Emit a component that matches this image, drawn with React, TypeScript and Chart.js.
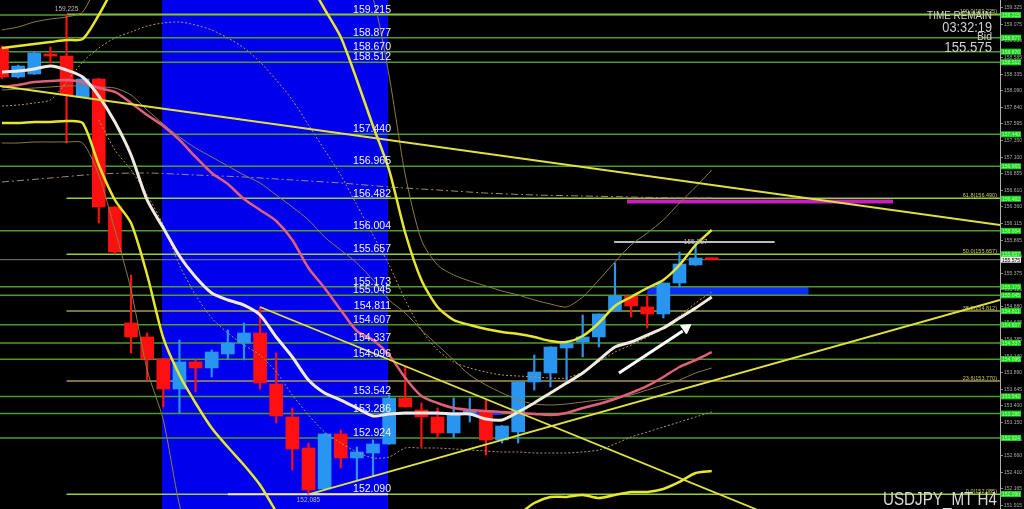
import React, { useEffect, useRef } from 'react';
import { Chart, registerables } from 'chart.js';

Chart.register(...registerables);

// ---------- scale ranges ----------
const X_MIN = -0.124;
const X_MAX = 61.87;
const Y_MIN = 151.867;
const Y_MAX = 159.438;

// ---------- candles (USDJPY H4) ----------
const OPEN = [158.724, 158.293, 158.337, 158.635, 158.605, 157.995, 158.263, 156.359, 154.634, 154.426, 154.098, 153.652, 154.054, 153.965, 154.173, 154.336, 154.485, 153.726, 153.236, 152.775, 152.165, 152.983, 152.626, 152.700, 152.834, 153.518, 153.340, 153.236, 152.998, 153.295, 153.325, 152.894, 153.013, 153.756, 153.890, 154.262, 154.351, 154.426, 154.812, 155.035, 154.872, 154.768, 155.229, 155.497, 155.590];
const HIGH = [158.754, 158.470, 158.665, 158.739, 159.225, 158.290, 158.275, 156.365, 155.348, 154.485, 154.105, 154.381, 154.084, 154.232, 154.530, 154.634, 154.872, 154.188, 153.370, 152.849, 152.990, 153.042, 152.790, 152.894, 153.563, 153.979, 153.444, 153.370, 153.518, 153.518, 153.488, 153.110, 153.760, 154.158, 154.280, 154.366, 154.753, 154.770, 155.526, 155.040, 155.050, 155.230, 155.690, 155.837, 155.590];
const LOW = [158.270, 158.280, 158.330, 158.501, 157.311, 157.990, 156.121, 155.670, 154.188, 153.786, 153.384, 153.295, 153.608, 153.831, 154.098, 154.084, 153.650, 153.146, 152.447, 152.085, 152.150, 152.477, 152.299, 152.358, 152.830, 153.384, 152.790, 152.923, 152.923, 153.161, 152.670, 152.849, 152.849, 153.637, 153.682, 153.786, 154.128, 154.277, 154.810, 154.723, 154.559, 154.708, 155.169, 155.490, 155.575];
const CLOSE = [158.293, 158.456, 158.650, 158.605, 158.025, 158.263, 156.359, 155.690, 154.426, 154.098, 153.652, 154.054, 153.965, 154.202, 154.336, 154.485, 153.741, 153.251, 152.760, 152.150, 152.983, 152.626, 152.715, 152.834, 153.518, 153.384, 153.236, 152.998, 153.295, 153.325, 152.894, 153.102, 153.756, 153.905, 154.277, 154.336, 154.426, 154.768, 155.035, 154.887, 154.768, 155.229, 155.511, 155.601, 155.575];

// ---------- indicator series (one value per candle) ----------
const MA_WHITE = [158.367, 158.382, 158.412, 158.456, 158.397, 158.293, 158.010, 157.623, 157.133, 156.463, 156.047, 155.630, 155.318, 155.080, 154.976, 154.901, 154.753, 154.425, 154.128, 153.786, 153.593, 153.488, 153.369, 153.250, 153.280, 153.295, 153.295, 153.295, 153.280, 153.280, 153.206, 153.191, 153.310, 153.444, 153.593, 153.741, 153.890, 154.083, 154.277, 154.351, 154.455, 154.559, 154.708, 154.857, 155.020];
const MA_PINK = [158.144, 158.174, 158.218, 158.233, 158.248, 158.218, 158.129, 158.070, 157.906, 157.727, 157.564, 157.356, 157.103, 156.865, 156.701, 156.478, 156.314, 156.151, 155.868, 155.452, 155.154, 154.827, 154.515, 154.381, 154.158, 153.816, 153.548, 153.444, 153.369, 153.340, 153.325, 153.310, 153.295, 153.280, 153.265, 153.295, 153.369, 153.429, 153.503, 153.593, 153.697, 153.831, 153.979, 154.083, 154.202];
const MA_TAN = [158.099, 158.114, 158.129, 158.144, 158.159, 158.159, 158.144, 158.129, 158.025, 157.802, 157.594, 157.400, 157.237, 157.103, 156.969, 156.835, 156.716, 156.538, 156.359, 156.166, 155.913, 155.719, 155.526, 155.273, 154.976, 154.782, 154.530, 154.306, 154.083, 153.860, 153.712, 153.593, 153.488, 153.429, 153.414, 153.429, 153.459, 153.488, 153.518, 153.563, 153.637, 153.712, 153.786, 153.890, 153.964];
const BAND_UP = [158.724, 158.754, 158.784, 158.813, 158.843, 158.858, 159.215, 159.661, null, null, null, null, null, null, null, null, null, null, 160.330, 159.735, 159.304, 158.888, 158.248, 157.564, 156.909, 155.972, 155.273, 154.872, 154.678, 154.604, 154.544, 154.500, 154.470, 154.425, 154.366, 154.351, 154.440, 154.634, 154.887, 155.020, 155.154, 155.273, 155.496, 155.794, 156.017];
const BAND_LO = [157.608, 157.608, 157.623, 157.623, 157.638, 157.608, 156.984, 156.463, 156.121, 155.348, 154.411, 153.860, 153.444, 153.072, 152.789, 152.522, 152.224, 151.823, 151.406, null, null, null, null, null, null, null, null, null, null, null, null, null, 151.778, 151.956, 152.046, 152.046, 152.075, 152.031, 152.075, 152.120, 152.120, 152.165, 152.269, 152.403, 152.432];
const BAND3_UP = [158.992, 159.036, 159.111, 159.155, 159.185, 159.260, 159.735, 160.330, null, null, null, null, null, null, null, null, null, null, null, null, null, 160.330, 159.884, 159.468, 158.308, 156.835, 155.868, 155.496, 155.348, 155.258, 155.184, 155.110, 155.050, 154.976, 154.916, 154.872, 155.020, 155.273, 155.541, 155.794, 155.972, 156.166, 156.419, 156.657, 156.909];
const BAND3_LO = [157.311, 157.311, 157.326, 157.326, 157.326, 157.311, 156.835, 156.017, 155.125, 153.935, 153.191, 151.927, 151.110, null, null, null, null, null, null, null, null, null, null, null, null, null, null, null, null, null, null, null, null, null, null, null, null, null, null, null, null, null, null, null, null];
const DOT_UP = [157.861, 157.876, 157.906, 157.951, 158.218, 158.516, 158.724, 158.873, 158.962, 159.051, 159.096, 159.111, 159.066, 158.992, 158.873, 158.724, 158.516, 158.248, 157.951, 157.579, 157.207, 156.835, 156.389, 155.943, 155.496, 154.976, 154.530, 154.232, 154.054, 153.964, 153.905, 153.860, 153.845, 153.831, 153.816, 153.816, 153.905, 154.054, 154.202, 154.306, 154.425, 154.559, 154.738, 154.931, 155.095];
const DOT_LO = [null, null, null, null, null, null, 157.653, 157.207, 156.909, 156.538, 156.091, 155.496, 155.050, 154.708, 154.485, 154.306, 154.158, 153.905, 153.563, 153.265, 153.012, 152.849, 152.715, 152.626, 152.641, 152.774, 152.774, 152.774, 152.760, 152.745, 152.730, 152.715, 152.715, 152.700, 152.700, 152.700, 152.715, 152.745, 152.834, 152.938, 153.012, 153.087, 153.161, 153.236, 153.310];
const LONG_MA_X = [0, 3, 6, 9, 12, 15, 18, 21, 24, 27, 30, 33, 36, 39, 42, 44];
const LONG_MA_Y = [156.731, 156.790, 156.850, 156.865, 156.835, 156.805, 156.761, 156.716, 156.657, 156.612, 156.567, 156.538, 156.523, 156.508, 156.493, 156.493];

// ---------- horizontal levels ----------
const LEVELS = [159.215, 158.877, 158.670, 158.512, 157.440, 156.965, 156.482, 156.004, 155.657, 155.173, 155.045, 154.811, 154.607, 154.337, 154.096, 153.542, 153.286, 152.924, 152.090];
const LEVELS_FULL = [159.215, 158.877, 158.670, 158.512, 157.440, 156.965, 156.004, 155.173, 155.045, 154.607, 154.337, 154.096, 153.542, 153.286, 152.924];
const FIB_PCT = ['100.0', '61.8', '50.0', '38.2', '23.6', '0.0'];
const FIB_VALUES = [159.225, 156.490, 155.657, 154.812, 153.770, 152.085];
const FIB_START = 4;
const CURRENT_PRICE = 155.575;
const AXIS_TICKS = [159.325, 159.075, 158.830, 158.585, 158.335, 158.090, 157.840, 157.595, 157.350, 157.100, 156.855, 156.610, 156.360, 156.115, 155.865, 155.620, 155.375, 155.125, 154.880, 154.635, 154.385, 154.140, 153.890, 153.645, 153.400, 153.150, 152.905, 152.660, 152.410, 152.165, 151.915];

// ---------- drawn objects ----------
const BLUE_FROM = 9.92;
const BLUE_TO = 23.93;
const ZONE_X = [40, 50];
const ZONE_Y = [155.045, 155.173];
const MAGENTA_X = [38.75, 55.24];
const MAGENTA_Y = 156.441;
const HIGH_LINE_X = [37.95, 47.9];
const HIGH_LINE_Y = 155.837;
const LOW_LINE_X = [14, 23.93];
const LOW_LINE_Y = 152.085;
const BLUE_LINE_X = [24, 31];
const BLUE_LINE_Y = 153.286;
const TREND1_X = [X_MIN, X_MAX];
const TREND1_Y = [158.159, 156.091];
const TREND2_X = [19, X_MAX];
const TREND2_Y = [152.085, 154.976];
const TREND3_X = [16, 47];
const TREND3_Y = [154.872, 151.838];
const ARROW_X = [38.25, 42.2];
const ARROW_Y = [153.890, 154.514];
const ARROW_HEAD = { x: 42.4, y: 154.559 };
const MARK_IDX = [4, 19, 43];
const MARK_VAL = [159.225, 152.085, 155.837];
const MARK_TXT = ['159.225', '152.085', '155.837'];

const FONT = '"Liberation Sans", Arial, sans-serif';

function txt(ctx: CanvasRenderingContext2D, s: string, x: number, y: number, size: number, color: string, align: CanvasTextAlign = 'left', sx = 1) {
  ctx.save();
  ctx.font = `${size}px ${FONT}`;
  ctx.fillStyle = color;
  ctx.textAlign = align;
  ctx.textBaseline = 'alphabetic';
  ctx.translate(x, y);
  ctx.scale(sx, 1);
  ctx.fillText(s, 0, 0);
  ctx.restore();
}

const IDX = OPEN.map((_, i) => i);
const ser = (arr: (number | null)[]) => arr.map((v, i) => ({ x: i, y: v }));
const seg = (xs: number[], ys: number[]) => xs.map((x, i) => ({ x, y: ys[i] }));
const hline = (x0: number, x1: number, v: number) => [{ x: x0, y: v }, { x: x1, y: v }];

function lineDs(data: any[], color: string, width: number, order: number, extra: any = {}) {
  return {
    type: 'line' as const,
    data,
    borderColor: color,
    borderWidth: width,
    pointRadius: 0,
    fill: false,
    tension: 0.25,
    order,
    ...extra,
  };
}

export default function App() {
  const ref = useRef<HTMLCanvasElement | null>(null);

  useEffect(() => {
    if (!ref.current) return;
    const BULL = '#2896f0';
    const BEAR = '#ff1010';
    const colors = IDX.map((i) => (CLOSE[i] >= OPEN[i] ? BULL : BEAR));

    const bgPlugin = {
      id: 'bg',
      beforeDraw(chart: any) {
        const { ctx, width, height } = chart;
        ctx.save();
        ctx.fillStyle = '#000000';
        ctx.fillRect(0, 0, width, height);
        const xs = chart.scales.x;
        const { top, bottom } = chart.chartArea;
        const x0 = xs.getPixelForValue(BLUE_FROM);
        const x1 = xs.getPixelForValue(BLUE_TO);
        ctx.fillStyle = '#0000ec';
        ctx.fillRect(x0, top, x1 - x0, bottom - top);
        ctx.restore();
      },
      beforeDatasetsDraw(chart: any) {
        const { ctx } = chart;
        const xs = chart.scales.x;
        const ys = chart.scales.y;
        const x0 = xs.getPixelForValue(ZONE_X[0]);
        const x1 = xs.getPixelForValue(ZONE_X[1]);
        const y0 = ys.getPixelForValue(ZONE_Y[1]);
        const y1 = ys.getPixelForValue(ZONE_Y[0]);
        ctx.save();
        ctx.fillStyle = '#0a2cff';
        ctx.fillRect(x0, y0, x1 - x0, y1 - y0);
        ctx.restore();
      },
    };

    const overlayPlugin = {
      id: 'overlay',
      afterDatasetsDraw(chart: any) {
        const { ctx, chartArea } = chart;
        const xs = chart.scales.x;
        const ys = chart.scales.y;
        const xr = xs.getPixelForValue(BLUE_TO) + 3;
        LEVELS.forEach((v) => txt(ctx, v.toFixed(3), xr, ys.getPixelForValue(v) - 2, 10.5, '#f2f2f2', 'right'));
        FIB_VALUES.forEach((v, k) =>
          txt(ctx, `${FIB_PCT[k]}(${v.toFixed(3)})`, chartArea.right - 3, ys.getPixelForValue(v) - 1.5, 5.5, '#c8c85a', 'right')
        );
        MARK_IDX.forEach((ix, k) => {
          const x = xs.getPixelForValue(ix);
          const y = ys.getPixelForValue(MARK_VAL[k]);
          const dy = k === 0 ? -3 : k === 1 ? 8 : 2;
          txt(ctx, MARK_TXT[k], x, y + dy, 6.5, '#b8b8b8', 'center');
        });
      },
      afterDraw(chart: any) {
        const { ctx, chartArea } = chart;
        const ys = chart.scales.y;
        const bx = chartArea.right + 1;
        LEVELS.forEach((v) => {
          const y = ys.getPixelForValue(v);
          ctx.fillStyle = '#1fd41f';
          ctx.fillRect(bx, y - 3, 20, 6);
          txt(ctx, v.toFixed(3), bx + 1, y + 2, 5, '#a8ffa8');
        });
        const yc = ys.getPixelForValue(CURRENT_PRICE);
        ctx.fillStyle = '#f0f0f0';
        ctx.fillRect(bx, yc - 3, 20, 6);
        txt(ctx, CURRENT_PRICE.toFixed(3), bx + 1, yc + 2, 5, '#000000');

        const tr = 992;
        txt(ctx, 'TIME REMAIN', tr, 19, 11, '#d0d0d0', 'right', 0.9);
        txt(ctx, '03:32:19', tr, 32, 15, '#d0d0d0', 'right', 0.85);
        txt(ctx, 'Bid', tr, 40, 11, '#d0d0d0', 'right', 0.95);
        txt(ctx, CURRENT_PRICE.toFixed(3), tr, 52, 15, '#d0d0d0', 'right', 0.88);
        txt(ctx, 'USDJPY_MT H4', 997, 505, 19, '#d8d8d8', 'right', 0.8);
      },
    };

    const datasets: any[] = [];
    LEVELS_FULL.forEach((v) => datasets.push(lineDs(hline(X_MIN, X_MAX, v), '#4e9a2e', 1.5, 100, { tension: 0 })));
    datasets.push(lineDs(hline(X_MIN, X_MAX, CURRENT_PRICE), '#7c7c7c', 1, 99, { tension: 0 }));
    const fibColors = ['#8fbf3a', '#9acd32', '#9acd32', '#a0a048', '#a89850', '#9acd32'];
    FIB_VALUES.forEach((v, k) => datasets.push(lineDs(hline(FIB_START, X_MAX, v), fibColors[k], 1.5, 98, { tension: 0 })));
    datasets.push(lineDs(hline(HIGH_LINE_X[0], HIGH_LINE_X[1], HIGH_LINE_Y), '#bdbdbd', 2, 97, { tension: 0 }));
    datasets.push(lineDs(hline(LOW_LINE_X[0], LOW_LINE_X[1], LOW_LINE_Y), '#e8e8e8', 2, 97, { tension: 0 }));
    datasets.push(lineDs(hline(BLUE_LINE_X[0], BLUE_LINE_X[1], BLUE_LINE_Y), '#1a3cff', 3, 97, { tension: 0 }));
    datasets.push(lineDs(seg(LONG_MA_X, LONG_MA_Y), '#9a8f6a', 1, 90, { borderDash: [7, 3, 2, 3] }));
    datasets.push(lineDs(hline(MAGENTA_X[0], MAGENTA_X[1], MAGENTA_Y), '#c81ec8', 4, 85, { tension: 0 }));

    datasets.push({
      type: 'bar',
      data: IDX.map((i) => ({ x: i, y: [LOW[i], HIGH[i]] })),
      backgroundColor: colors,
      barThickness: 1.5,
      grouped: false,
      order: 60,
    });
    datasets.push({
      type: 'bar',
      data: IDX.map((i) => ({ x: i, y: [OPEN[i], CLOSE[i]] })),
      backgroundColor: colors,
      barThickness: 13,
      minBarLength: 2,
      grouped: false,
      order: 55,
    });

    datasets.push(lineDs(ser(MA_TAN), '#8c7a50', 1, 50));
    datasets.push(lineDs(ser(BAND3_UP), '#8c7d3c', 1, 49));
    datasets.push(lineDs(ser(BAND3_LO), '#8c7d3c', 1, 49));
    datasets.push(lineDs(ser(DOT_UP), '#b5955a', 1, 48, { borderDash: [2, 2] }));
    datasets.push(lineDs(ser(DOT_LO), '#a89a6a', 1, 48, { borderDash: [2, 2] }));
    datasets.push(lineDs(ser(BAND_UP), '#e6e62e', 2.5, 40));
    datasets.push(lineDs(ser(BAND_LO), '#e6e62e', 2.5, 40));
    datasets.push(lineDs(ser(MA_PINK), '#e0607c', 2.5, 38));
    datasets.push(lineDs(ser(MA_WHITE), '#f2eadf', 3, 36));
    datasets.push(lineDs(seg(TREND1_X, TREND1_Y), '#e0e040', 1.8, 30, { tension: 0 }));
    datasets.push(lineDs(seg(TREND2_X, TREND2_Y), '#e0e040', 1.8, 30, { tension: 0 }));
    datasets.push(lineDs(seg(TREND3_X, TREND3_Y), '#e0e040', 1.8, 30, { tension: 0 }));
    datasets.push(lineDs(seg(ARROW_X, ARROW_Y), '#ffffff', 3, 20, { tension: 0 }));
    datasets.push({
      type: 'line',
      data: [ARROW_HEAD],
      showLine: false,
      pointStyle: 'triangle',
      pointRadius: 6,
      rotation: 55,
      pointBackgroundColor: '#ffffff',
      pointBorderColor: '#ffffff',
      pointBorderWidth: 1,
      order: 19,
    });

    const chart = new Chart(ref.current, {
      type: 'bar',
      data: { datasets },
      options: {
        responsive: false,
        devicePixelRatio: 1,
        animation: false,
        events: [],
        layout: { padding: 0, autoPadding: false },
        plugins: { legend: { display: false }, tooltip: { enabled: false }, title: { display: false } },
        scales: {
          x: { type: 'linear', min: X_MIN, max: X_MAX, display: false, offset: false, bounds: 'data' },
          y: {
            type: 'linear',
            position: 'right',
            min: Y_MIN,
            max: Y_MAX,
            bounds: 'data',
            afterBuildTicks: (s: any) => {
              s.ticks = AXIS_TICKS.map((v) => ({ value: v }));
            },
            afterFit: (s: any) => {
              s.width = 24;
              s.paddingTop = 0;
              s.paddingBottom = 0;
            },
            ticks: {
              autoSkip: false,
              color: '#a8a8a8',
              padding: 1,
              font: { size: 5, family: FONT },
              callback: (v: any) => Number(v).toFixed(3),
            },
            grid: { display: true, drawOnChartArea: false, drawTicks: true, tickLength: 3, color: '#888888' },
            border: { display: true, color: '#b0b0b0', width: 1 },
          },
        },
      } as any,
      plugins: [bgPlugin, overlayPlugin],
    } as any);

    return () => chart.destroy();
  }, []);

  return (
    <div style={{ position: 'absolute', left: 0, top: 0, width: 1024, height: 509, background: '#000' }}>
      <canvas ref={ref} width={1024} height={509} style={{ display: 'block', width: 1024, height: 509 }} />
    </div>
  );
}
